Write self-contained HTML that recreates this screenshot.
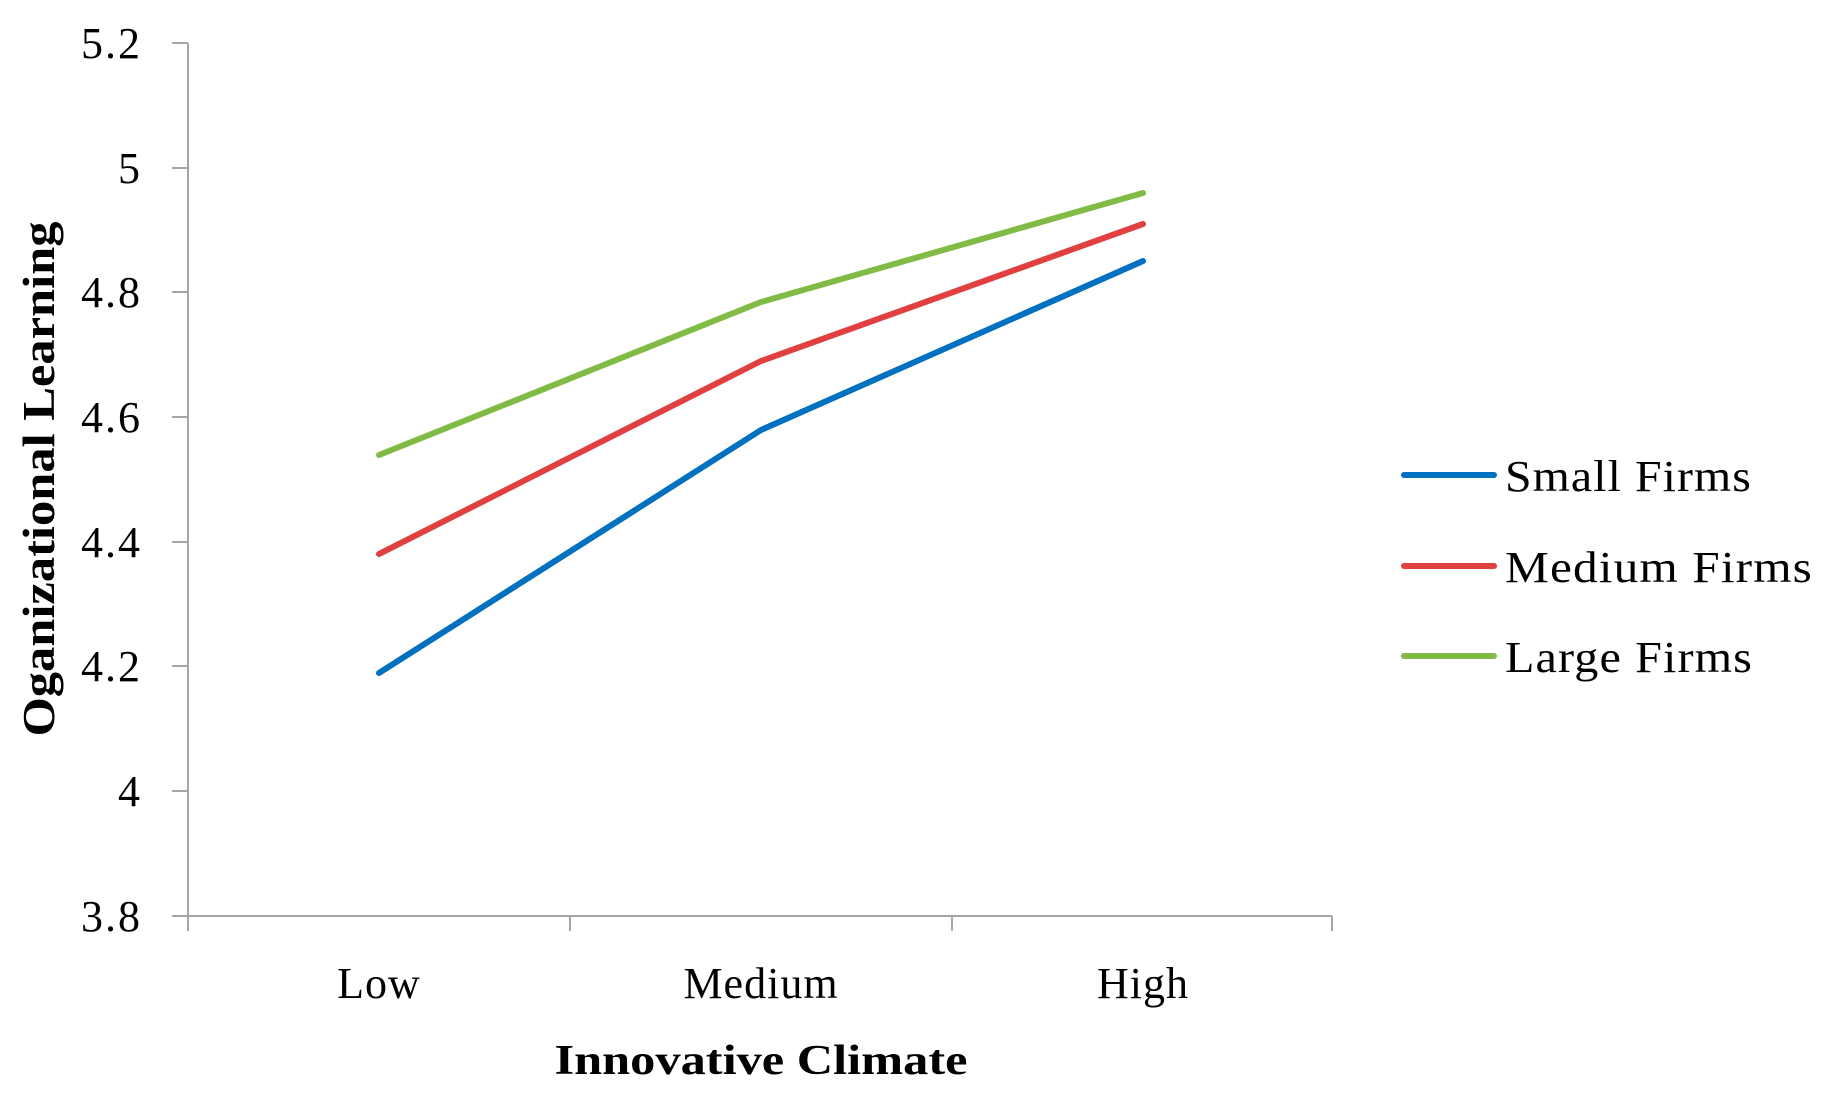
<!DOCTYPE html>
<html><head><style>body{margin:0;background:#fff}</style></head><body>
<svg width="1827" height="1114" xmlns="http://www.w3.org/2000/svg" font-family="Liberation Serif, serif">
<rect width="1827" height="1114" fill="#fff"/>
<g stroke="#a6a6a6" stroke-width="2" fill="none">
<line x1="188" y1="43" x2="188" y2="931"/>
<line x1="188" y1="916" x2="1332" y2="916"/>
<line x1="172" y1="43" x2="188" y2="43"/>
<line x1="172" y1="168" x2="188" y2="168"/>
<line x1="172" y1="292" x2="188" y2="292"/>
<line x1="172" y1="417" x2="188" y2="417"/>
<line x1="172" y1="542" x2="188" y2="542"/>
<line x1="172" y1="666" x2="188" y2="666"/>
<line x1="172" y1="791" x2="188" y2="791"/>
<line x1="172" y1="916" x2="188" y2="916"/>
<line x1="570" y1="916" x2="570" y2="931"/>
<line x1="952" y1="916" x2="952" y2="931"/>
<line x1="1332" y1="916" x2="1332" y2="931"/>
</g>
<g font-size="44" text-anchor="end" fill="#000" letter-spacing="2">
<text x="142" y="58">5.2</text>
<text x="142" y="183">5</text>
<text x="142" y="307">4.8</text>
<text x="142" y="432">4.6</text>
<text x="142" y="557">4.4</text>
<text x="142" y="681">4.2</text>
<text x="142" y="806">4</text>
<text x="142" y="931">3.8</text>
</g>
<g font-size="44" text-anchor="middle" letter-spacing="1">
<text x="379" y="998">Low</text>
<text x="761" y="998">Medium</text>
<text x="1143" y="998">High</text>
</g>
<text x="761" y="1074" font-size="42" font-weight="bold" text-anchor="middle" textLength="413" lengthAdjust="spacingAndGlyphs">Innovative Climate</text>
<text transform="translate(54,479) rotate(-90)" font-size="46" font-weight="bold" text-anchor="middle" textLength="515" lengthAdjust="spacingAndGlyphs">Oganizational Learning</text>
<g fill="none" stroke-width="6" stroke-linecap="round" stroke-linejoin="round">
<polyline stroke="#0070c0" points="379,673 761,430 1143,261"/>
<polyline stroke="#e04040" points="379,554 761,361 1143,224"/>
<polyline stroke="#80bb45" points="379,455 761,302 1143,193"/>
<line stroke="#0070c0" x1="1404" y1="475" x2="1494" y2="475"/>
<line stroke="#e04040" x1="1404" y1="566" x2="1494" y2="566"/>
<line stroke="#80bb45" x1="1404" y1="656" x2="1494" y2="656"/>
</g>
<g font-size="44" letter-spacing="1">
<text x="1505" y="491" textLength="247" lengthAdjust="spacingAndGlyphs">Small Firms</text>
<text x="1505" y="582" textLength="308" lengthAdjust="spacingAndGlyphs">Medium Firms</text>
<text x="1505" y="672" textLength="248" lengthAdjust="spacingAndGlyphs">Large Firms</text>
</g>
</svg>
</body></html>
